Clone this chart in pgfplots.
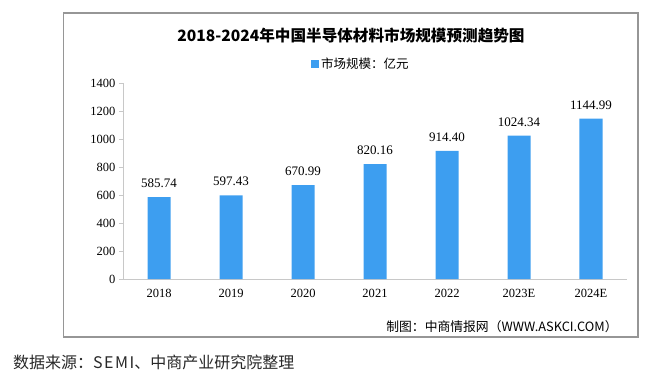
\documentclass[border=0pt]{standalone}
\usepackage{pgfplots}
\pgfplotsset{compat=1.18}
\usepackage{fontspec}
\setmainfont{Liberation Serif}
\newfontfamily\cjk{Noto Sans CJK SC}
\definecolor{barblue}{RGB}{61,158,240}
\definecolor{axgray}{RGB}{200,200,200}
\definecolor{framegray}{RGB}{150,150,150}
\begin{document}
\begin{tikzpicture}[x=1pt,y=1pt]
\path[use as bounding box] (0,0) rectangle (663,376);
\draw[framegray,line width=1.2pt] (63.5,39) rectangle (638,363);
\node[font=\cjk\bfseries\fontsize{15.6}{18}\selectfont] at (351,340) {2018-2024年中国半导体材料市场规模预测趋势图};
\begin{axis}[
  at={(123pt,97pt)}, anchor=south west,
  scale only axis, width=504pt, height=196pt,
  xmin=-0.5, xmax=6.5, ymin=0, ymax=1400,
  axis x line*=bottom, axis y line*=left,
  axis line style={axgray,-},
  xtick={0,...,6},
  xticklabels={2018,2019,2020,2021,2022,2023E,2024E},
  x tick style={draw=none},
  extra x ticks={-0.5,0.5,1.5,2.5,3.5,4.5,5.5,6.5},
  extra x tick labels={},
  extra x tick style={major tick length=5pt, tick align=outside, tick style={draw=axgray}},
  ytick={0,200,...,1400},
  major tick length=4pt,
  y tick style={draw=axgray},
  tick align=outside,
  /pgf/number format/assume math mode=true,
  /pgf/number format/1000 sep={},
  ticklabel style={font=\fontsize{12.5}{14}\selectfont, text=black},
  x tick label style={yshift=-3pt},
  bar width=23pt,
  ybar,
  point meta=explicit symbolic,
  nodes near coords,
  every node near coord/.append style={font=\fontsize{13}{14}\selectfont, anchor=south, inner sep=0pt, yshift=9pt, text=black},
  legend style={at={(0.472,1.097)}, anchor=center, draw=none, fill=none, font=\cjk\fontsize{12.5}{14}\selectfont, inner sep=0pt},
  legend image code/.code={\fill[barblue] (0pt,-4pt) rectangle (8pt,4pt);},
  clip=false,
]
\addplot[fill=barblue, draw=none] table[x=x, y=y, meta=lab] {
x y lab
0 585.74 585.74
1 597.43 597.43
2 670.99 670.99
3 820.16 820.16
4 914.40 914.40
5 1024.34 1024.34
6 1144.99 1144.99
};
\addlegendentry{市场规模：亿元}
\end{axis}
\node[font=\cjk\fontsize{12.8}{14}\selectfont] at (502,49) {制图：中商情报网（WWW.ASKCI.COM）};
\node[font=\cjk\fontsize{16}{18}\selectfont, text={rgb,255:red,40;green,40;blue,40}, anchor=west, inner sep=0pt] at (13,14) {数据来源：S\hspace{1.5pt}E\hspace{1.5pt}M\hspace{1.5pt}I、中商产业研究院整理};
\end{tikzpicture}
\end{document}
